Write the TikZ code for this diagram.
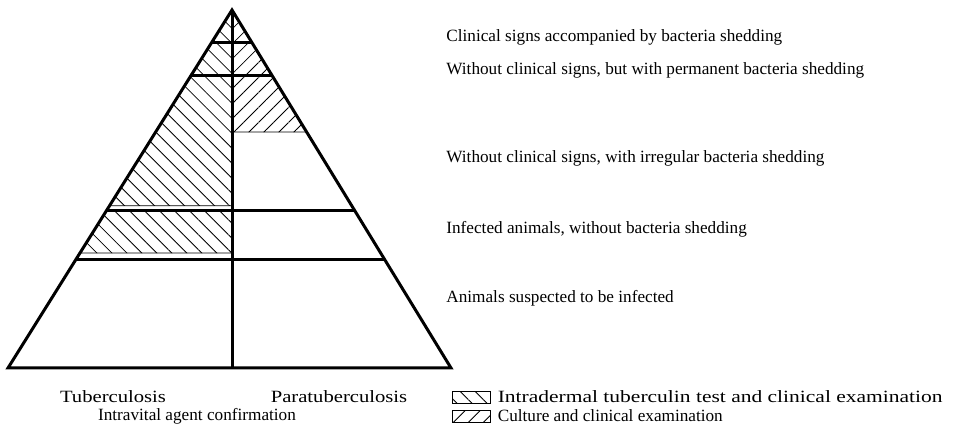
\documentclass[tikz,border=0pt]{standalone}
\usepackage{fontspec}
\setmainfont{Liberation Serif}
\usetikzlibrary{calc,positioning,patterns.meta}
\newcommand{\wide}[2][1.2]{\scalebox{#1}[1]{#2}}
\tikzset{
  edge/.style={line width=1.5pt, line join=miter},
  tbarea/.style={draw, line width=0.4pt,
    pattern={Lines[angle=-45, distance=5.3pt, line width=0.4pt]}},
  ptbarea/.style={draw, line width=0.4pt,
    pattern={Lines[angle=45, distance=5.3pt, line width=0.4pt]}},
  txt/.style={font=\fontsize{8.6}{10}\selectfont, inner sep=0pt},
  lvl/.style={txt, anchor=west},
  keybox/.style={minimum width=19pt, minimum height=6pt, inner sep=0pt},
}

\begin{document}
\begin{tikzpicture}[x=0.5pt, y=-0.5pt]
  \useasboundingbox (0,0) rectangle (956,426);
  \coordinate (apex) at (232,10);
  \coordinate (bl) at (8,368);
  \coordinate (br) at (451,368);
  \coordinate (bc) at (232,368);
  % levels, as a fraction of the height from the apex
  \foreach \n/\t in {a/0.092, b/0.184, c/0.341, d/0.547, e/0.559, g/0.679, h/0.696}{
    \coordinate (l\n) at ($(apex)!\t!(bl)$);
    \coordinate (r\n) at ($(apex)!\t!(br)$);
    \coordinate (m\n) at ($(apex)!\t!(bc)$);
  }
  % hatched areas
  \path[tbarea] (apex) -- (ld) -- (md) -- cycle;
  \path[tbarea] (le) -- (lg) -- (mg) -- (me) -- cycle;
  \path[ptbarea] (apex) -- (rc) -- (mc) -- cycle;
  % pyramid
  \draw[edge] (apex) -- (bl) -- (br) -- cycle;
  \draw[edge] (apex) -- (bc);
  \draw[edge] (la) -- (ra) (lb) -- (rb) (le) -- (re) (lh) -- (rh);

  \node[lvl] (lv1) at (446,37) {Clinical signs accompanied by bacteria shedding};
  \node[lvl] (lv2) at (446,70) {Without clinical signs, but with permanent bacteria shedding};
  \node[lvl] (lv3) at (446,158) {Without clinical signs, with irregular bacteria shedding};
  \node[lvl] (lv4) at (446,229) {Infected animals, without bacteria shedding};
  \node[lvl] (lv5) at (446,298) {Animals suspected to be infected};

  \node[txt] (tb) at (113,397) {\wide{Tuberculosis}};
  \node[txt] (ptb) at (339,397) {\wide{Paratuberculosis}};
  \node[txt] (iac) at (197,416) {Intravital agent confirmation};

  % key
  \node[keybox, tbarea] (k1) at (471,397) {};
  \node[keybox, ptbarea] (k2) at (471,416) {};
  \node[lvl, right=3.5pt of k1] (k1t) {\wide[1.25]{Intradermal tuberculin test and clinical examination}};
  \node[lvl, right=3.5pt of k2] (k2t) {Culture and clinical examination};
\end{tikzpicture}
\end{document}
